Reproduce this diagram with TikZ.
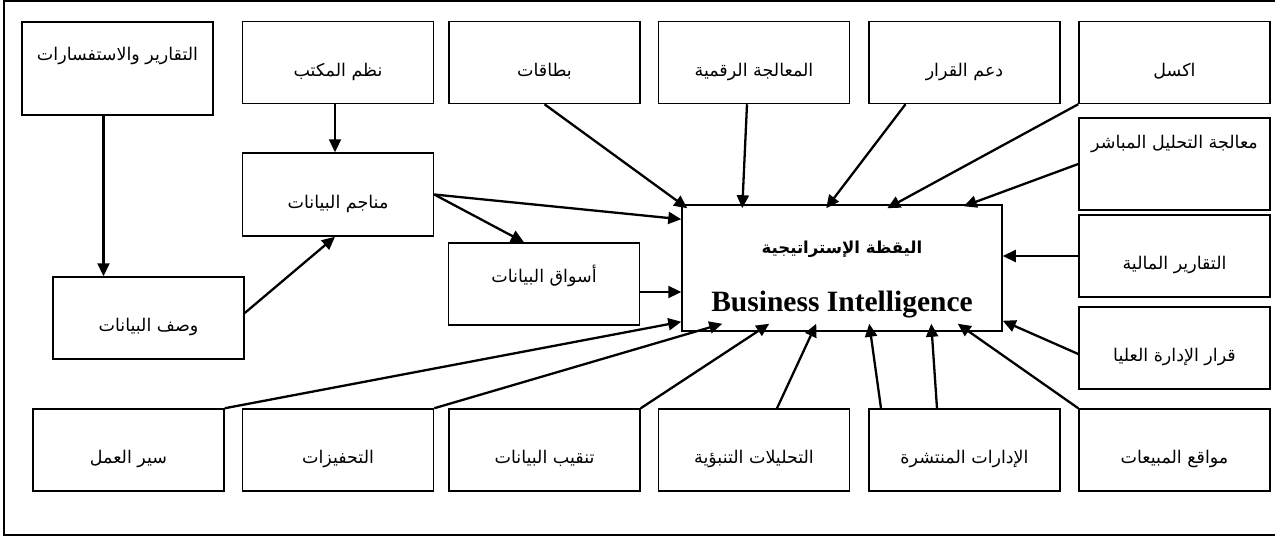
\documentclass[tikz,border=0pt]{standalone}
\usepackage{fontspec}
\setmainfont{Liberation Serif}
\newfontfamily\arabicfont[Script=Arabic]{DejaVu Sans}
\TeXXeTstate=1
\usetikzlibrary{arrows.meta,positioning}
\newcommand{\artxt}[1]{{\arabicfont\beginR #1\endR}}

\begin{document}
\begin{tikzpicture}[x=1pt,y=-1pt,
  box/.style={draw,line width=1.5pt,minimum width=191pt,minimum height=82pt,
    inner sep=0pt,text height=31pt,text depth=4pt,font=\fontsize{17.5}{20}\selectfont},
  arr/.style={line width=2.3pt,-{Triangle[length=13pt,width=12pt]}},
  frame/.style={line width=1.1pt}]
\useasboundingbox (0,0) rectangle (1275,538);
\draw[frame] (4,1) rectangle (1280,535);
% top row
\node[box,minimum height=93pt,text height=13pt,text depth=29pt] (reports) at (117.5,68.5) {\artxt{التقارير والاستفسارات}};
\node[box] (office) at (338,62.5) {\artxt{نظم المكتب}};
\node[box] (cards) at (544.5,62.5) {\artxt{بطاقات}};
\node[box] (digital) at (754,62.5) {\artxt{المعالجة الرقمية}};
\node[box] (decision) at (964.5,62.5) {\artxt{دعم القرار}};
\node[box] (excel) at (1174.5,62.5) {\artxt{اكسل}};
% right column
\node[box,minimum height=92pt,text height=13pt,text depth=45pt] (olap) at (1174.5,164) {\artxt{معالجة التحليل المباشر}};
\node[box] (finance) at (1174.5,256) {\artxt{التقارير المالية}};
\node[box] (topmgmt) at (1174.5,348) {\artxt{قرار الإدارة العليا}};
% middle
\node[box,minimum height=83pt] (mines) at (338,194.5) {\artxt{مناجم البيانات}};
\node[box] (desc) at (148.5,318) {\artxt{وصف البيانات}};
\node[box,text height=13pt,text depth=17pt] (marts) at (544,284) {\artxt{أسواق البيانات}};
\node[box,minimum width=320pt,minimum height=126pt,align=center,text height=,text depth=,
  font=\fontsize{29.5}{31}\selectfont\bfseries] (bi) at (842,268)
  {\rule{0pt}{35pt}{\fontsize{16.5}{19}\selectfont\artxt{اليقظة الإستراتيجية}}\\[27pt]Business Intelligence};
% bottom row
\node[box] (work) at (128.5,450) {\artxt{سير العمل}};
\node[box] (incent) at (338,450) {\artxt{التحفيزات}};
\node[box] (mining) at (544.5,450) {\artxt{تنقيب البيانات}};
\node[box] (pred) at (754,450) {\artxt{التحليلات التنبؤية}};
\node[box] (dist) at (964.5,450) {\artxt{الإدارات المنتشرة}};
\node[box] (sales) at (1174.5,450) {\artxt{مواقع المبيعات}};

% left chain
\draw[arr] ([xshift=-14pt]reports.south) -- ([xshift=-14pt]reports.south |- desc.north);
\draw[arr] ([xshift=-3pt]office.south) -- ([xshift=-3pt]mines.north);
\draw[arr] ([yshift=5pt]desc.east) -- ([xshift=-3pt]mines.south);
\draw[arr] (mines.east) -- ([xshift=-20pt]marts.north);
\draw[arr] (mines.east) -- ([yshift=-15pt]bi.north west);
\draw[arr] ([yshift=-8pt]marts.east) -- ([yshift=-8pt]marts.east -| bi.west);
% top into bi
\draw[arr] (cards.south) -- ([xshift=6pt,yshift=-4pt]bi.north west);
\draw[arr] ([xshift=-7pt]digital.south) -- ([xshift=61pt,yshift=-4pt]bi.north west);
\draw[arr] ([xshift=-59pt]decision.south) -- ([xshift=145pt,yshift=-4pt]bi.north west);
\draw[arr] (excel.south west) -- ([xshift=206pt,yshift=-4pt]bi.north west);
\draw[arr] (olap.west) -- ([xshift=-39pt,yshift=-2pt]bi.north east);
% right into bi
\draw[arr] (finance.west) -- (finance.west -| bi.east);
\draw[arr] ([yshift=-6pt]topmgmt.west) -- ([yshift=11pt]bi.south east);
% bottom into bi
\draw[arr] (work.north east) -- ([yshift=10pt]bi.south west);
\draw[arr] (incent.north east) -- ([xshift=41pt,yshift=8pt]bi.south west);
\draw[arr] (mining.north east) -- ([xshift=88pt,yshift=8pt]bi.south west);
\draw[arr] ([xshift=23pt]pred.north) -- ([xshift=135pt,yshift=8pt]bi.south west);
\draw[arr] ([xshift=-83.5pt]dist.north) -- ([xshift=188pt,yshift=8pt]bi.south west);
\draw[arr] ([xshift=-27.5pt]dist.north) -- ([xshift=250pt,yshift=8pt]bi.south west);
\draw[arr] (sales.north west) -- ([xshift=-45pt,yshift=8pt]bi.south east);
\end{tikzpicture}
\end{document}
